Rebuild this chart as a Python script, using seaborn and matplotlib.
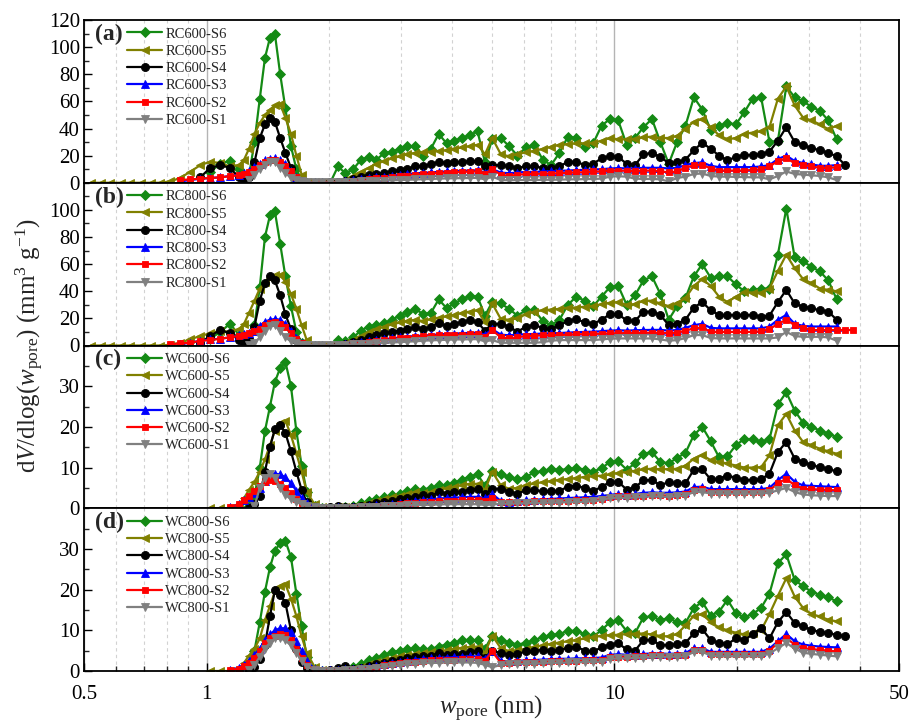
import numpy as np
import pandas as pd
import matplotlib
matplotlib.use("Agg")
import matplotlib.pyplot as plt
import seaborn as sns
from matplotlib.ticker import MultipleLocator, FixedLocator, NullFormatter

N = float("nan")

# pore width grid (nm)
w_pore = [0.52, 0.55, 0.58, 0.615, 0.65, 0.69, 0.73, 0.77, 0.815, 0.86, 0.91, 0.965, 1.02, 1.08, 1.14, 1.20,
          1.235, 1.27, 1.31, 1.35, 1.39, 1.43, 1.47, 1.515, 1.56, 1.61, 1.66, 1.71, 1.76,
          1.84, 1.92, 2.01, 2.10, 2.19, 2.29, 2.39, 2.50, 2.61, 2.73, 2.85, 2.98, 3.11, 3.25, 3.40, 3.55, 3.71, 3.88, 4.05, 4.23, 4.42, 4.62, 4.82,
          5.02, 5.27, 5.52, 5.79, 6.07, 6.37, 6.68, 7.00, 7.34, 7.70, 8.07, 8.47, 8.88, 9.31, 9.76, 10.23, 10.73, 11.25, 11.80, 12.38,
          12.98, 13.61, 14.27, 14.96, 15.69, 16.45, 17.25, 18.09, 18.97, 19.89, 20.86, 21.87, 22.94, 24.05, 25.22, 26.45, 27.73, 29.08,
          30.49, 31.98, 33.53, 35.16, 36.87, 38.66]

# ---- panel (a) ----
RC600_S6 = [N, N, N, N, N, N, N, N, N, N, N, N, 8, 14, 16, 10,
            4, 5, 30, 62, 92, 107, 110, 80, 55, 27, 10, 2, 0,
            0, 0, 0, 12, 7, 10, 17, 19, 17, 22, 23, 25, 27, 27, 20, 25, 36, 29, 31, 33, 35, 38, 15,
            32, 33, 27, 20, 26, 28, 17, 13, 22, 34, 33, 26, 29, 42, 47, 46, 28, 33, 41, 47, 30, 14, 30, 42, 63, 54, 39, 42, 44, 43,
            52, 62, 63, 30, 31, 71, 63, 60, 56, 53, 46, 32, N, N]
RC600_S5 = [0, 0, 0, 0, 0, 0, 0, 0, 1, 3.5, 8, 13, 15.5, 14.5, 12, 13,
            17, 25, 36, 44, 50, 54, 57, 58, 48, 36, 20, 6, 0.5,
            0, 0, 0, 0.5, 2, 5, 8, 11, 14, 16, 18, 19.5, 21, 22, 22.5, 23, 23.5, 24, 25, 26, 27, 28, 21,
            33, 21, 19.5, 21, 22.5, 23.5, 25, 26.5, 28, 28.5, 29, 29, 29.5, 31, 33, 32, 32, 32.5, 33.5, 34, 33, 33, 34.5, 40, 45, 47,
            41, 35, 32, 33, 36, 37, 38, 41, 62, 71, 57, 48, 46, 43, 39.5, 42, N, N]
RC600_S4 = [N, N, N, N, N, N, N, N, N, N, N, 4, 11, 13, 11, 4,
            2, 4, 15, 33, 43, 47.5, 45, 33, 22, 11, 3, 0.5, 0,
            0, 0, 0.3, 0.5, 1.5, 3, 4.5, 5.5, 6.5, 7.5, 8.3, 9.5, 10.5, 12, 12.5, 13.5, 15.5, 14.5, 15, 15.5, 15.7, 15.7, 12,
            13, 13, 12, 11, 12, 12, 11, 11, 12, 15.5, 15.5, 13, 14, 18, 19.5, 19, 14, 13, 21, 22, 19, 14.5, 15, 17, 24, 29.5, 25, 20,
            16.5, 19, 20.5, 20.5, 21, 23, 31, 41, 30, 27.5, 25.5, 24, 22, 19.5, 13, N]
RC600_S3 = [N, N, N, N, N, N, N, N, N, 1, 2, 3, 3.5, 4, 5, 6,
            7, 9, 11.5, 14, 16.5, 17.5, 18, 17, 14, 9, 4, 1.5, 0.5,
            0.2, 0.2, 0.3, 0.5, 1, 1.8, 2.5, 3.2, 4, 4.6, 5.2, 5.8, 6.3, 7, 7.3, 7.6, 8, 8.3, 8.6, 8.8, 9, 9.2, 7.5,
            10, 7.5, 7, 7.5, 8, 8, 8.3, 8.5, 8.8, 9, 9.3, 9.5, 9.8, 10, 10.5, 10.8, 10.5, 10.5, 11, 11, 11, 10.5, 11, 13, 14.5, 15,
            12.5, 11.5, 11.5, 11.5, 11.5, 11.5, 12, 13, 17.5, 20, 16, 14.5, 13.5, 12.5, 12.5, 13, N, N]
RC600_S2 = [N, N, N, N, N, N, N, N, N, 2, 2.5, 3, 3.5, 4, 4.8, 5.5,
            6.5, 8, 10.5, 13, 15.5, 16.5, 16.8, 15.5, 12.5, 8.5, 4, 1.5, 0.5,
            0.2, 0.2, 0.3, 0.5, 0.8, 1.5, 2, 2.7, 3.2, 3.8, 4.3, 4.8, 5.3, 6, 6.4, 6.8, 7.2, 7.5, 7.8, 8, 8.2, 8.3, 6.5,
            10, 6, 5, 6, 6.3, 6.6, 6.6, 6.8, 7, 7.4, 7.6, 7.8, 8.3, 8.3, 9, 9, 8.8, 8.5, 9, 9, 8.5, 7.6, 8.3, 11, 13, 13.2,
            10.5, 9, 9, 9, 9, 9.5, 10, 12, 16, 18, 14.5, 13.2, 12, 11, 10.8, 11.5, N, N]
RC600_S1 = [N, N, N, N, N, N, N, N, N, N, N, N, N, N, N, N,
            N, 2, 5.5, 10.5, 13.3, 15.3, 15, 11, 7, 3.8, 1.8, 1, 0.5,
            0.2, 0.2, 0.2, 0.3, 0.5, 0.8, 1, 1.2, 1.4, 1.6, 1.8, 2, 2.2, 2.4, 2.6, 2.8, 3, 3.2, 3.3, 3.4, 3.5, 3.6, 2.5,
            4.5, 2, 1.8, 2, 2, 2, 2.2, 2.2, 2.3, 2.5, 2.5, 2.7, 2.8, 3, 4.5, 4.8, 4.5, 3, 2.8, 2.8, 2.5, 1, 3.5, 4.5, 6.5, 6.8,
            5, 4.5, 4.5, 4.3, 4.2, 4, 4, 2.5, 5, 8.3, 6.5, 6, 5.5, 5, 4, 2, N, N]

# ---- panel (b) ----
RC800_S6 = [N, N, N, N, N, N, N, N, N, N, N, N, 5, 10, 16, 8,
            3, 3, 15, 43, 80, 96, 99, 75, 51, 29, 10, 2, 0,
            0, 0, 0, 4, 3, 6, 11, 14, 15, 16.5, 19, 22, 24.5, 27, 23, 24, 34, 27.5, 31, 34, 36.5, 36, 22,
            32, 31, 27, 22, 26, 26, 18, 15, 19, 30, 36, 33, 29, 36, 43, 44, 30, 37, 48, 51, 38, 19, 29, 35, 51, 60, 50, 51,
            51, 45, 40, 41, 42, 42, 67, 101, 65, 62, 58, 54.6, 48, 34, N, N]
RC800_S5 = [0, 0, 0, 0, 0, 0, 0, 0, 0.5, 2, 4.5, 7, 9, 11, 10, 12,
            16, 24, 33, 42, 47, 50, 52, 52, 47, 38, 27, 15, 4,
            0.5, 0, 0, 0.5, 1.5, 4, 7, 10, 12, 14, 15.5, 17, 18, 19, 18, 19.5, 20.5, 21.5, 22.5, 24, 25, 26, 17,
            31, 19.5, 19, 20, 23, 25, 26, 26.5, 27, 28, 28, 28.6, 29, 30.5, 31.5, 32, 30, 30.5, 33, 33, 31, 29, 31, 35, 44, 49,
            44, 36, 32, 36, 39.5, 39, 39, 42, 55, 67, 57, 49, 46, 42, 41, 40, N, N]
RC800_S4 = [N, N, N, N, N, N, N, N, N, N, N, 2, 7, 11.5, 9, 4,
            2, 5, 14, 33, 46, 51, 48, 37, 23, 12, 4, 1, 0,
            0, 0, 0, 0.3, 1, 2.5, 4, 6, 7.5, 9, 10, 11, 12, 13.5, 12, 14, 16.5, 14.5, 16, 17, 18.5, 17, 11,
            16, 16, 14, 10, 14, 15, 13, 12, 15, 18, 19.5, 17, 16, 19, 23, 23, 18.5, 18, 25, 25, 22.5, 15, 16, 19, 28, 32,
            26, 22.5, 22.5, 22.5, 22.5, 22.5, 21, 22, 32, 41, 31, 28.6, 27.4, 26, 25, 19, N, N]
RC800_S3 = [N, N, N, N, N, N, N, N, N, 1, 2, 3.5, 4.5, 5, 6, 7.5,
            8.5, 9.5, 11, 14.5, 17.5, 19, 19.5, 19, 16, 11, 5.5, 2, 0.5,
            0.2, 0.2, 0.3, 0.5, 1, 1.8, 2.6, 3.3, 4, 4.7, 5.3, 5.9, 6.5, 7, 7.3, 7.7, 8.2, 8.5, 8.8, 9, 9.3, 9.5, 8,
            12, 8, 7.5, 8, 8.3, 8.5, 8.8, 9, 9.2, 9.5, 9.8, 10, 10.2, 10.5, 11, 11.2, 11, 11.2, 11.4, 11.5, 11.5, 11, 11.4, 13, 15, 16,
            13, 12.6, 12.6, 12.6, 12.6, 12.6, 12.6, 14, 19, 22.5, 16, 14.5, 14, 14, 14, 14, N, N]
RC800_S2 = [N, N, N, N, N, N, N, N, 1, 1.5, 2, 3.5, 4, 5, 6, 7,
            8, 9, 10.5, 12.5, 15, 16.5, 17, 16, 13.5, 9.5, 5, 2, 0.5,
            0.2, 0.2, 0.3, 0.5, 0.8, 1.5, 2.2, 2.8, 3.4, 4, 4.6, 5.2, 5.8, 6.4, 7, 7.2, 7.4, 7.5, 7.7, 8, 8.2, 8.4, 6.4,
            11.4, 6, 5.2, 6, 7, 7.2, 7.4, 7.6, 7.7, 8, 8.2, 8.4, 8.5, 8.7, 9, 9, 9.2, 9.2, 9.4, 9.4, 9.4, 9, 9.4, 11, 12.6, 13.3,
            10, 10, 10, 10, 10, 10, 10.5, 12, 16, 19, 15, 13, 11.4, 11.4, 11.4, 11.4, 11.4, 11.4]
RC800_S1 = [N, N, N, N, N, N, N, N, N, N, N, N, N, N, N, N,
            N, 0.5, 2, 6, 11, 14.5, 14.8, 11, 6, 3, 1.5, 0.7, 0.3,
            0.2, 0.2, 0.2, 0.3, 0.5, 0.8, 1, 1.3, 1.6, 1.9, 2.2, 2.5, 2.8, 3.1, 3.5, 3.8, 4, 4.2, 4.4, 4.5, 4.6, 4.7, 3,
            4, 2, 2, 2, 2, 2, 2.5, 3.5, 4, 4, 4, 4, 4, 4.5, 5, 5.2, 5.2, 5.2, 5.2, 5.2, 4.5, 3.5, 4, 5.5, 7.7, 7.7,
            5.5, 5.2, 5.2, 5.2, 5.2, 5.2, 5.2, 5.2, 6, 10, 7, 6.4, 6.4, 6.4, 6, 3.5, N, N]

# ---- panel (c) ----
WC600_S6 = [N, N, N, N, N, N, N, N, N, N, N, N, N, N, N, N,
            N, 0.5, 3, 10, 19, 25, 31, 34.5, 36, 30, 19, 10.5, 4,
            0.5, 0, 0.1, 0.3, 0.2, 0.5, 1.2, 1.8, 2.3, 2.8, 3.2, 3.6, 4.2, 4.8, 4.6, 5, 5.7, 5.6, 6.3, 7, 7.8, 8.3, 5.5,
            9.2, 8.3, 7.7, 7.1, 7.7, 8.8, 9.2, 9.6, 9.4, 9.6, 9.9, 9.5, 9, 9.8, 11.4, 11.5, 9.5, 11, 13.4, 13.8, 11.4, 11, 12.4, 13.6,
            18, 20, 16.5, 12.5, 12.8, 15.5, 17, 17, 16.2, 17, 25.5, 28.5, 24, 21, 20, 19.1, 18.3, 17.5, N, N]
WC600_S5 = [N, N, N, N, N, N, N, N, N, N, N, N, 0, 0, 0, 1,
            2.5, 4.5, 6.5, 9, 12, 15.5, 19, 21, 21.5, 18, 13.5, 9, 4,
            1, 0.3, 0.1, 0.2, 0.2, 0.4, 0.8, 1.4, 1.9, 2.3, 2.7, 3.1, 3.6, 4, 3.8, 3.9, 4.6, 4.9, 5.3, 5.7, 6, 6, 4.5,
            9, 5.6, 4.8, 5, 5.6, 6.1, 6.4, 6.7, 7, 7.2, 7.4, 7.7, 7.9, 8, 8.3, 8.7, 8.9, 9.2, 9.6, 9.7, 9.6, 9.6, 9.7, 10.5,
            12.2, 13.1, 11.8, 11.4, 11, 10.5, 10, 10, 10.1, 13, 20.4, 23.2, 19.1, 16.3, 15.5, 14.6, 14, 13.4, N, N]
WC600_S4 = [N, N, N, N, N, N, N, N, N, N, N, N, N, N, N, N,
            N, 0, 1, 3, 9, 15, 19.5, 20.5, 18.5, 14, 9, 4.5, 1.5,
            0.3, 0, 0.2, 0.6, 0.3, 0.3, 0.5, 0.9, 1.3, 1.6, 1.9, 2.2, 2.5, 2.8, 3.2, 3, 4, 3.6, 3.9, 4.1, 4.5, 4.8, 3.5,
            4.8, 4.8, 4, 3.6, 4.4, 4.4, 4.2, 4.2, 4.3, 5.3, 5.5, 5, 4.3, 5.2, 6.5, 6.5, 4.6, 5.1, 6.9, 6.9, 5.7, 6.4, 6.1, 6.1,
            9.5, 9.6, 7.1, 7.3, 8, 7.5, 6.9, 7, 7.1, 8.5, 13.8, 16.3, 12.2, 11.4, 10.6, 10.1, 9.6, 9.1, N, N]
WC600_S3 = [N, N, N, N, N, N, N, N, N, N, N, N, N, N, 0.3, 1,
            2, 2.8, 3.8, 5, 6.8, 8, 8.5, 8.3, 7.6, 6.2, 4.3, 2.5, 1.2,
            0.3, 0.1, 0.1, 0.2, 0.1, 0.2, 0.3, 0.5, 0.7, 0.9, 1.1, 1.3, 1.5, 1.8, 2, 2.2, 2.4, 2.5, 2.6, 2.7, 2.8, 2.8, 2.4,
            3.5, 1.8, 1.6, 1.8, 2, 2.1, 2.2, 2.3, 2.4, 2.5, 2.6, 2.7, 2.8, 3, 3.3, 3.5, 3.3, 3.5, 3.8, 3.9, 3.8, 3.8, 3.9, 4.1,
            5.2, 5.3, 4.7, 4.7, 4.7, 4.7, 4.7, 4.7, 4.7, 5, 6.9, 8.5, 6.5, 5.6, 5.5, 5.4, 5.3, 5.2, N, N]
WC600_S2 = [N, N, N, N, N, N, N, N, N, N, N, N, N, N, 0.3, 1,
            2, 3, 4.3, 5.5, 6.4, 6.9, 6.8, 6, 5, 3.7, 2.3, 1.2, 0.5,
            0.2, 0.1, 0.1, 0.1, 0.1, 0.2, 0.3, 0.4, 0.6, 0.7, 0.9, 1, 1.2, 1.4, 1.5, 1.6, 1.7, 1.8, 1.9, 2, 2, 2.1, 1.8,
            2.6, 1.5, 1.5, 1.6, 1.6, 1.7, 1.8, 1.8, 1.9, 1.9, 2, 2, 2.1, 2.2, 2.8, 2.9, 2.9, 3, 3.1, 3.2, 3.2, 3.1, 3.3, 3.4,
            4.6, 4.7, 4.1, 4, 4, 4, 4, 4, 4, 4.4, 6.1, 7.3, 5.6, 4.8, 4.7, 4.6, 4.5, 4.4, N, N]
WC600_S1 = [N, N, N, N, N, N, N, N, N, N, N, N, N, N, N, N,
            N, N, 0.5, 5, 7.5, 8.5, 7.5, 5, 3.3, 2.2, 1.5, 1, 0.5,
            0.2, 0.1, 0.1, 0.1, 0.1, 0.1, 0.2, 0.3, 0.4, 0.5, 0.6, 0.6, 0.7, 0.8, 0.8, 0.9, 0.9, 1, 1, 1, 1, 1, 0.8,
            0.9, 1.1, 1.1, 1.2, 1.2, 1.3, 1.3, 1.4, 1.4, 1.5, 1.5, 1.6, 1.7, 2, 2.5, 2.6, 2.5, 2.7, 2.8, 2.9, 2.9, 2.8, 3, 3.1,
            4, 4, 3.6, 3.6, 3.6, 3.6, 3.6, 3.6, 3.6, 3.8, 4.4, 5, 4, 3.4, 3.2, 3.1, 3, 3, N, N]

# ---- panel (d) ----
WC800_S6 = [N, N, N, N, N, N, N, N, N, N, N, N, N, N, N, N,
            N, 1, 5, 12, 19.5, 25.5, 29.5, 31.5, 32, 28, 19, 11, 3.5,
            0.5, 0, 0.1, 0.4, 0.5, 1, 1.8, 2.6, 3.3, 4, 4.6, 5, 5.3, 5.6, 5.3, 5.4, 6, 6.5, 6.9, 7.5, 7.7, 7.5, 5.5,
            8.7, 7.7, 7, 6.5, 6.9, 7.6, 8.3, 8.8, 9.1, 9.8, 9.9, 9, 8.5, 10, 12, 12.5, 9.8, 9.3, 13.2, 13.4, 12.5, 13, 12, 11.8,
            15.5, 17, 13.6, 14.6, 17.5, 14.2, 13.2, 14, 15.5, 19, 26.5, 28.7, 22.4, 20.8, 19.5, 18.7, 18.1, 17.1, N, N]
WC800_S5 = [N, N, N, N, N, N, N, N, N, N, N, N, 0, 0, 0, 0.5,
            2, 3.8, 5.5, 8, 12.5, 16, 19.5, 21, 21.3, 17.8, 13.5, 8.5, 4.5,
            1, 0.2, 0.1, 0.2, 0.3, 0.6, 1.1, 1.7, 2.2, 2.7, 3.2, 3.7, 4, 4.3, 4.4, 4.6, 4.8, 5.1, 5.4, 5.7, 5.9, 6, 4.5,
            8.7, 5.6, 4.9, 5.1, 5.5, 5.9, 6.3, 6.7, 7, 7.3, 7.6, 8, 8.3, 8.7, 8.8, 8.9, 9.1, 9.2, 9.2, 9, 8.6, 8.5, 9.1, 11.2,
            13.6, 14, 12, 10.7, 10, 9.4, 9, 9.3, 10, 14, 18.5, 22.8, 18.3, 15.5, 14, 13.4, 12.6, 12.2, N, N]
WC800_S4 = [N, N, N, N, N, N, N, N, N, N, N, N, N, N, N, N,
            N, 0, 1, 3, 6.5, 13.5, 19.8, 18.8, 16.8, 10, 5.5, 2.3, 0.8,
            0.3, 0, 0.3, 0.8, 1.2, 0.6, 0.8, 1.2, 1.6, 2, 2.4, 2.8, 3.2, 3.5, 3.8, 3.8, 4.4, 4, 4.1, 4.3, 4.6, 4.8, 3.3,
            5, 4.4, 4, 4.2, 4.8, 5, 5.2, 4.9, 5.1, 5.7, 6, 5, 4.8, 5.8, 6.5, 6.8, 5.3, 5, 7.6, 7.7, 6.3, 6.5, 6.6, 6.9,
            9.3, 10.3, 7.6, 6.9, 6.6, 8, 7.6, 9, 10.5, 8, 12, 14.5, 11.8, 11, 10.1, 9.6, 9.3, 8.9, 8.5, N]
WC800_S3 = [N, N, N, N, N, N, N, N, N, N, N, N, N, N, 0.3, 0.8,
            1.5, 2.5, 4, 5.5, 7.5, 9, 10, 10.5, 10.5, 9.5, 7.3, 4.8, 2.5,
            0.5, 0.2, 0.2, 0.3, 0.4, 0.5, 0.7, 1, 1.3, 1.6, 1.9, 2.2, 2.5, 2.8, 3, 3.1, 3.2, 3.3, 3.4, 3.5, 3.6, 3.6, 3,
            5, 2.4, 2.4, 2.5, 2.6, 2.7, 2.8, 2.9, 3, 3, 3.1, 3.1, 3.2, 3.3, 4, 4.1, 4, 4, 4.2, 4.3, 4.3, 4.2, 4.3, 4.4,
            5.6, 5.6, 4.7, 4.7, 4.7, 4.7, 4.7, 4.7, 4.7, 5.5, 7.3, 9.1, 7.3, 6.5, 6.2, 6, 5.9, 5.8, N, N]
WC800_S2 = [N, N, N, N, N, N, N, N, N, N, N, N, N, N, 0.3, 0.6,
            1.2, 2, 3.3, 5, 6.8, 8, 8.7, 9, 8.8, 7.5, 5.3, 3.3, 1.5,
            0.4, 0.2, 0.2, 0.2, 0.3, 0.4, 0.6, 0.8, 1.1, 1.4, 1.6, 1.9, 2.1, 2.3, 2.5, 2.6, 2.7, 2.8, 2.8, 2.9, 2.9, 2.9, 2.5,
            4.8, 2, 2, 2.1, 2.2, 2.2, 2.3, 2.4, 2.4, 2.5, 2.5, 2.6, 2.6, 2.8, 3.4, 3.5, 3.5, 3.6, 3.8, 3.9, 3.9, 3.8, 3.9, 4,
            5.2, 5.2, 4.3, 4.2, 4.2, 4.2, 4.2, 4.2, 4.2, 5, 6.9, 8.1, 6.5, 5.6, 5.4, 5.2, 5, 4.8, N, N]
WC800_S1 = [N, N, N, N, N, N, N, N, N, N, N, N, N, N, N, N,
            N, 0.3, 1.5, 3.5, 5.5, 7, 8, 8, 7.5, 6.3, 4.5, 2.5, 1,
            0.3, 0.1, 0.1, 0.1, 0.2, 0.3, 0.4, 0.6, 0.8, 1, 1.2, 1.4, 1.6, 1.8, 1.9, 2, 2, 2.1, 2.1, 2.1, 2.1, 2, 1.5,
            0.9, 1.5, 1.6, 1.7, 1.8, 1.8, 1.9, 2, 2, 2.1, 2.1, 2.2, 2.2, 2.3, 3, 3.1, 3.1, 3.2, 3.3, 3.4, 3.5, 3.5, 3.5, 3.6,
            4.7, 4.7, 3.8, 3.6, 3.6, 3.6, 3.6, 3.6, 3.6, 4.3, 5.6, 6.9, 5.5, 4.5, 4.2, 4, 3.8, 3.6, N, N]

panel_tags = ["(a)", "(b)", "(c)", "(d)"]
panel_prefix = ["RC600", "RC800", "WC600", "WC800"]
panel_series = [
    [RC600_S6, RC600_S5, RC600_S4, RC600_S3, RC600_S2, RC600_S1],
    [RC800_S6, RC800_S5, RC800_S4, RC800_S3, RC800_S2, RC800_S1],
    [WC600_S6, WC600_S5, WC600_S4, WC600_S3, WC600_S2, WC600_S1],
    [WC800_S6, WC800_S5, WC800_S4, WC800_S3, WC800_S2, WC800_S1],
]
series_suffix = ["S6", "S5", "S4", "S3", "S2", "S1"]

# styles
colors = ["#148a14", "#808000", "#000000", "#0000ff", "#ff0000", "#808080"]
markers = ["D", "<", "o", "^", "s", "v"]
msizes = [4.8, 5.8, 5.8, 5.8, 5.0, 5.8]

sns.set_theme(style="white")
plt.rcParams["font.family"] = ["Liberation Serif", "DejaVu Serif"]
plt.rcParams["mathtext.fontset"] = "custom"
plt.rcParams["mathtext.rm"] = "Liberation Serif"
plt.rcParams["mathtext.it"] = "Liberation Serif:italic"
plt.rcParams["mathtext.bf"] = "Liberation Serif:bold"

W, H = 913, 724
fig, axes = plt.subplots(4, 1, figsize=(W / 100, H / 100), dpi=100, sharex=True)
fig.subplots_adjust(left=84 / W, right=899 / W, top=1 - 20 / H, bottom=1 - 671 / H, hspace=0)

x_arr = np.array(w_pore, dtype=float)
ylims = [(0, 120), (0, 120), (0, 40), (0, 40)]
yticks = [np.arange(0, 121, 20), np.arange(0, 101, 20), np.arange(0, 31, 10), np.arange(0, 31, 10)]
yminor = [10, 10, 5, 5]

for i, ax in enumerate(axes):
    ax.set_xscale("log")
    for j, ser in enumerate(panel_series[i]):
        y = np.array(ser, dtype=float)
        assert len(y) == len(x_arr), (panel_prefix[i], j, len(y))
        m = ~np.isnan(y)
        df = pd.DataFrame({"w": x_arr[m], "v": y[m]})
        sns.lineplot(data=df, x="w", y="v", ax=ax, color=colors[j], marker=markers[j],
                     markersize=msizes[j], markeredgecolor=colors[j], markeredgewidth=0.6,
                     linewidth=1.6, label=f"{panel_prefix[i]}-{series_suffix[j]}",
                     estimator=None, errorbar=None, sort=False)
    ax.set_xlim(0.5, 50)
    ax.set_ylim(*ylims[i])
    ax.yaxis.set_major_locator(FixedLocator(yticks[i]))
    ax.yaxis.set_minor_locator(MultipleLocator(yminor[i]))
    ax.set_xlabel("")
    ax.set_ylabel("")
    ax.grid(False)
    ax.set_axisbelow(True)
    ax.xaxis.grid(True, which="minor", linestyle=(0, (3, 3)), color="#d2d2d2", linewidth=0.8)
    ax.xaxis.grid(True, which="major", color="#b4b4b4", linewidth=1.0)
    for s in ax.spines.values():
        s.set_linewidth(1.3)
        s.set_color("black")
    ax.tick_params(axis="y", which="major", direction="in", length=6, width=1.0, left=True, right=False,
                   labelsize=15, pad=3, colors="black")
    ax.tick_params(axis="y", which="minor", direction="in", length=3.5, width=1.0, left=True, right=False)
    last = (i == 3)
    ax.tick_params(axis="x", which="major", direction="in", length=6, width=1.0, bottom=last, top=False,
                   labelbottom=last, labelsize=15, pad=10, colors="black")
    ax.tick_params(axis="x", which="minor", direction="in", length=3.5, width=1.0, bottom=last, top=False)
    ax.text(0.014, 0.912, panel_tags[i], transform=ax.transAxes, fontsize=17, fontweight="bold",
            ha="left", va="center")
    ax.legend(loc="upper left", bbox_to_anchor=(0.053, 0.955), frameon=False, fontsize=10.5,
              handlelength=2.4, handletextpad=0.2, labelspacing=0.28, borderpad=0, borderaxespad=0,
              numpoints=1)

axes[-1].set_xticks([0.5, 1, 10, 50])
axes[-1].set_xticklabels(["0.5", "1", "10", "50"])
axes[-1].set_xticks([0.6, 0.7, 0.8, 0.9, 2, 3, 4, 5, 6, 7, 8, 9, 20, 30, 40], minor=True)
axes[-1].xaxis.set_minor_formatter(NullFormatter())

fig.text(30 / W, 1 - 345.5 / H, r"d$V$/dlog($w_{\mathrm{pore}}$) (mm$^3$ g$^{-1}$)",
         rotation=90, ha="center", va="center", fontsize=18)
fig.text(491 / W, 1 - 709 / H, r"$w_{\mathrm{pore}}$ (nm)", ha="center", va="center", fontsize=18)

fig.savefig("out.png", dpi=100)
